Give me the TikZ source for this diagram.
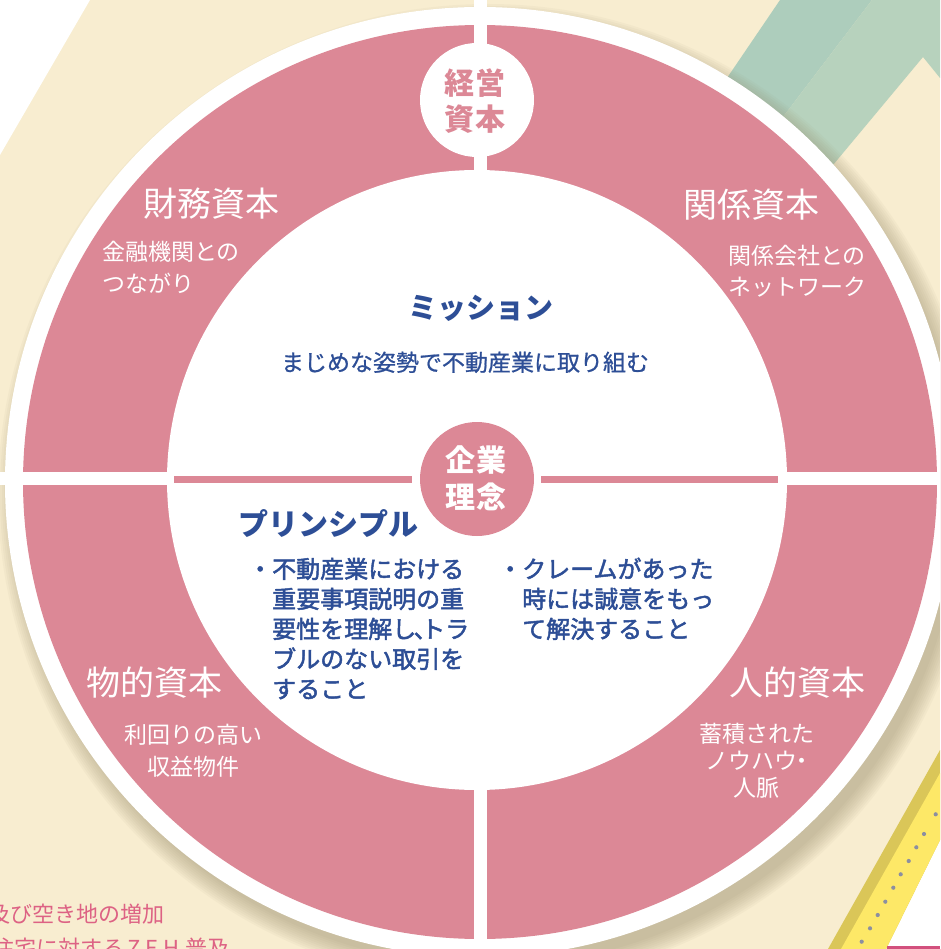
\documentclass[tikz,border=0pt]{standalone}
\usepackage{fontspec}
\setmainfont{Noto Sans CJK JP}
\newfontface\jpmed{Noto Sans CJK JP}[FakeBold=2]
\newfontface\jpsemi{Noto Sans CJK JP}[FakeBold=0.8]
\definecolor{beige}{RGB}{248,237,208}
\definecolor{gdark}{RGB}{173,205,188}
\definecolor{glight}{RGB}{183,210,189}
\definecolor{pinkc}{RGB}{220,136,150}
\definecolor{bluec}{RGB}{45,78,150}
\definecolor{redtext}{RGB}{221,98,132}
\definecolor{ybright}{RGB}{253,232,103}
\definecolor{ydark}{RGB}{218,198,88}
\definecolor{dotc}{RGB}{140,143,160}
\definecolor{barc}{RGB}{210,80,125}
\definecolor{shadowc}{RGB}{150,138,105}
\tikzset{
  ttl/.style={text=white, font=\fontsize{34}{40}\selectfont, inner sep=0pt, anchor=base},
  sub/.style={text=white, font=\fontsize{23}{28}\selectfont, inner sep=0pt, anchor=base},
  bluehead/.style={text=bluec, font=\bfseries\fontsize{29}{34}\selectfont, inner sep=0pt, anchor=base},
  bluebody/.style={text=bluec, font=\jpsemi\fontsize{23}{28}\selectfont, inner sep=0pt, anchor=base},
  bullettxt/.style={text=bluec, font=\jpmed\fontsize{24}{30}\selectfont, inner sep=0pt, anchor=base west},
  badge/.style={font=\bfseries\fontsize{30}{36}\selectfont, inner sep=0pt, anchor=base},
  bgtext/.style={text=redtext, font=\fontsize{22}{28}\selectfont, inner sep=0pt},
}
\begin{document}
\begin{tikzpicture}[x=1pt,y=-1pt]
\useasboundingbox (0,0) rectangle (940,949);
\begin{scope}
\clip (0,0) rectangle (940,949);
% ---- background
\fill[beige] (0,0) rectangle (940,949);
\fill[white] (0,0) -- (90,0) -- (0,155) -- cycle;
\fill[gdark] (780,0) -- (872,0) -- (516,468) -- (568,312) -- cycle;
\fill[glight] (872,0) -- (940,0) -- (940,78) -- (923,57) -- (563,489) -- (516,468) -- cycle;
% ---- ruler at lower right
\fill[white] (886,949) -- (940,840) -- (940,949) -- cycle;
\fill[ydark] (828,949) -- (940,750) -- (940,840) -- (886,949) -- cycle;
\fill[ybright] (841,949) -- (940,773) -- (940,840) -- (886,949) -- cycle;
\foreach \px/\py in {861.7/941.7, 870/928.3, 877.7/915, 885.3/901.7, 893.3/887.7, 900.7/874.3, 908.7/861, 916.3/847.3, 924/834, 935.7/814.3}
  \fill[dotc] (\px,\py) circle[radius=2.1pt];
\fill[barc] (887,946) rectangle (940,949);
% ---- background text
\node[bgtext, anchor=base west] (bg1) at (-12,922) {及び空き地の増加};
\node[bgtext, anchor=base east] (bg2) at (230,956) {住宅に対する\kern3pt Z\kern5pt E\kern5pt H\kern6pt 普及};
% ---- shadow of the disc
\foreach \r in {472,474,...,490}
  \fill[shadowc, opacity=0.055] (488,494) circle[radius=\r pt];
% ---- disc
\fill[white] (480,482) circle[radius=475pt];
\fill[pinkc] (480,482) circle[radius=457pt];
\fill[white] (474,0) rectangle (487,949);
\fill[white] (0,472) rectangle (940,485);
\fill[white] (477,480) circle[radius=310pt];
\end{scope}
% ---- inner pink lines
\coordinate (lA) at (174,479.5);
\coordinate (lB) at (412,479.5);
\coordinate (rA) at (541,479.5);
\coordinate (rB) at (778,479.5);
\draw[pinkc, line width=7.5pt] (lA) -- (lB);
\draw[pinkc, line width=7.5pt] (rA) -- (rB);
% ---- badges
\fill[white] (477,100) circle[radius=57pt];
\node[badge, text=pinkc] (k1) at (475,95) {経\kern2pt 営};
\node[badge, text=pinkc] (k2) at (475,131) {資\kern2pt 本};
\fill[pinkc] (477,479) circle[radius=57pt];
\node[badge, text=white] (c1) at (476,471) {企\kern2pt 業};
\node[badge, text=white] (c2) at (476,508) {理\kern2pt 念};
% ---- ring labels
\node[ttl] (t1) at (211,217) {財務資本};
\node[sub, anchor=base west] (t1a) at (102,261) {金融機関との};
\node[sub, anchor=base west] (t1b) at (102,292) {つながり};
\node[ttl] (t2) at (751,218) {関係資本};
\node[sub] (t2a) at (797,265) {関係会社との};
\node[sub] (t2b) at (797,295) {ネットワーク};
\node[ttl] (t3) at (154,695) {物的資本};
\node[sub] (t3a) at (193,743) {利回りの高い};
\node[sub] (t3b) at (193,775) {収益物件};
\node[ttl] (t4) at (797,695) {人的資本};
\node[sub] (t4a) at (757,742) {蓄積された};
\node[sub] (t4b) at (756,769) {ノウハウ\kern-7pt ・\kern-7pt};
\node[sub] (t4c) at (756,796) {人脈};
% ---- mission
\node[bluehead] (m1) at (481,318) {ミッション};
\node[bluebody] (m2) at (465,371) {まじめな姿勢で不動産業に取り組む};
% ---- principle
\node[bluehead, font=\bfseries\fontsize{30}{36}\selectfont] (p0) at (328,535) {プリンシプル};
\node[bullettxt] (p1) at (248,578) {・不動産業における};
\node[bullettxt] (p2) at (272,608) {重要事項説明の重};
\node[bullettxt] (p3) at (272,638) {要性を理解し\kern-2pt､\kern-5ptトラ};
\node[bullettxt] (p4) at (272,668) {ブルのない取引を};
\node[bullettxt] (p5) at (272,698) {すること};
\node[bullettxt] (q1) at (498,578) {・クレームがあった};
\node[bullettxt] (q2) at (522,608) {時には誠意をもっ};
\node[bullettxt] (q3) at (522,638) {て解決すること};
\end{tikzpicture}
\end{document}
